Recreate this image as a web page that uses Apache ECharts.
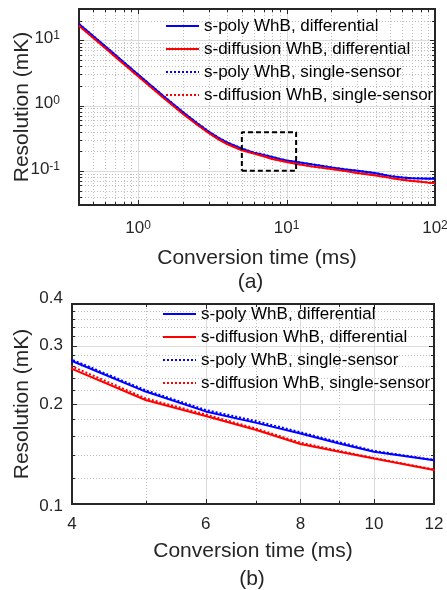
<!DOCTYPE html>
<html><head><meta charset="utf-8">
<script src="https://cdn.jsdelivr.net/npm/echarts@6/dist/echarts.min.js"></script>
<style>html,body{margin:0;padding:0;background:#fff}#c{width:447px;height:590px}</style>
</head><body><div id="c"></div>
<script>
// ---------------- data ----------------
const convTime   = [0.4, 0.5, 0.6, 0.7, 0.8, 0.9, 1, 1.2, 1.5, 2, 2.5, 3, 3.5, 4, 5, 6, 7, 8, 9, 10, 12, 15, 20, 25, 30, 40, 50, 60, 70, 80, 90, 100];
const polyDiff   = [17.7, 11.5, 8.05, 5.96, 4.59, 3.65, 2.97, 2.09, 1.36, 0.794, 0.535, 0.396, 0.317, 0.2695, 0.218, 0.190, 0.1755, 0.163, 0.152, 0.1436, 0.1355, 0.125, 0.113, 0.105, 0.100, 0.092, 0.083, 0.079, 0.077, 0.0765, 0.076, 0.0755];
const diffDiff   = [16.6, 10.8, 7.57, 5.6, 4.32, 3.44, 2.8, 1.97, 1.28, 0.75, 0.507, 0.376, 0.301, 0.255, 0.2056, 0.184, 0.167, 0.1515, 0.1436, 0.137, 0.1265, 0.116, 0.107, 0.099, 0.093, 0.085, 0.078, 0.073, 0.070, 0.068, 0.066, 0.065];
const polySingle = [17.8, 11.55, 8.1, 5.99, 4.61, 3.67, 2.99, 2.1, 1.37, 0.8, 0.539, 0.399, 0.32, 0.272, 0.220, 0.192, 0.1775, 0.1645, 0.1535, 0.1445, 0.1358, 0.1255, 0.1133, 0.1053, 0.1003, 0.0923, 0.0833, 0.0793, 0.0773, 0.0768, 0.0763, 0.0758];
const diffSingle = [16.7, 10.85, 7.6, 5.63, 4.34, 3.46, 2.82, 1.98, 1.29, 0.756, 0.512, 0.381, 0.306, 0.2595, 0.208, 0.186, 0.1685, 0.153, 0.1445, 0.1375, 0.127, 0.1163, 0.1073, 0.0993, 0.0933, 0.0853, 0.0783, 0.0733, 0.0703, 0.0683, 0.0663, 0.0653];
const seriesNames = ['s-poly WhB, differential', 's-diffusion WhB, differential', 's-poly WhB, single-sensor', 's-diffusion WhB, single-sensor'];
const zoomBoxX = [5, 11.6, 11.6, 5, 5];
const zoomBoxY = [0.1, 0.1, 0.39, 0.39, 0.1];

// axes (a)
const topXRange = [0.4, 100];
const topYRange = [0.03, 30];
const topXMajor = [1, 10, 100];
const topXMajorExp = ['0', '1', '2'];
const topXMinor = [0.5, 0.6, 0.7, 0.8, 0.9, 2, 3, 4, 5, 6, 7, 8, 9, 20, 30, 40, 50, 60, 70, 80, 90];
const topYMajor = [0.1, 1, 10];
const topYMajorExp = ['-1', '0', '1'];
const topYMinor = [0.04, 0.05, 0.06, 0.07, 0.08, 0.09, 0.2, 0.3, 0.4, 0.5, 0.6, 0.7, 0.8, 0.9, 2, 3, 4, 5, 6, 7, 8, 9, 20];
// axes (b)
const botXRange = [4, 12];
const botYRange = [0.1, 0.4];
const botXMajor = [4, 6, 8, 10, 12];
const botXMajorLabels = ['4', '6', '8', '10', '12'];
const botXMinor = [5, 7, 9];
const botYMajor = [0.1, 0.2, 0.3, 0.4];
const botYMajorLabels = ['0.1', '0.2', '0.3', '0.4'];
const botYMinor = [0.12, 0.14, 0.16, 0.18, 0.22, 0.24, 0.26, 0.28, 0.32, 0.34, 0.36, 0.38];

// ---------------- styling ----------------
const FONT = '"Liberation Sans", Arial, Helvetica, sans-serif';
const INK = '#262626';
const TICK_FS = 17;
const colors = ['#0000ff', '#ff0000', '#0000ff', '#ff0000'];
const dashes = ['solid', 'solid', [2, 2], [2, 2]];
const botYLabelShift = [2, 0, 0, -6];

function supRich() {
  return {
    b: {fontSize: TICK_FS, fontFamily: FONT, fill: INK, color: INK, lineHeight: 17, padding: [3, 0, 0, 0], verticalAlign: 'bottom'},
    s: {fontSize: 12, fontFamily: FONT, fill: INK, color: INK, lineHeight: 13, verticalAlign: 'top'}
  };
}

// draws grid lines, inward ticks and tick labels through the axis scales
function decor(gi, dir, vals, major, labels, xr, yr, lab) {
  const data = vals.map(v => dir === 'x' ? [v, yr[0]] : [xr[0], v]);
  return {
    type: 'custom', xAxisIndex: gi, yAxisIndex: gi, silent: true, clip: false, z: 1,
    data: data,
    renderItem: function (params, api) {
      const i = params.dataIndex;
      const children = [];
      const tl = major ? 5 : 3;
      const gridStyle = major ? {stroke: '#dcdcdc', lineWidth: 1} : {stroke: '#bdbdbd', lineWidth: 1, lineDash: [1, 2]};
      if (dir === 'x') {
        const v = api.value(0);
        const a = api.coord([v, yr[0]]), b = api.coord([v, yr[1]]);
        const x = Math.round(a[0]) + 0.5;
        const edge = (v === xr[0] || v === xr[1]);
        if (!edge) children.push({type: 'line', shape: {x1: x, y1: a[1], x2: x, y2: b[1]}, style: gridStyle});
        children.push({type: 'line', shape: {x1: x, y1: a[1], x2: x, y2: a[1] - tl}, style: {stroke: INK, lineWidth: 1}});
        children.push({type: 'line', shape: {x1: x, y1: b[1], x2: x, y2: b[1] + tl}, style: {stroke: INK, lineWidth: 1}});
        if (labels) {
          const t = lab.sup ? '{b|10}{s|' + labels[i] + '}' : labels[i];
          children.push({type: 'text', x: a[0], y: a[1] + lab.gap, style: {
            text: t, fill: INK, fontSize: TICK_FS, fontFamily: FONT, align: 'center', verticalAlign: 'top',
            rich: lab.sup ? supRich() : undefined}});
        }
      } else {
        const v = api.value(1);
        const a = api.coord([xr[0], v]), b = api.coord([xr[1], v]);
        const y = Math.round(a[1]) + 0.5;
        const edge = (v === yr[0] || v === yr[1]);
        if (!edge) children.push({type: 'line', shape: {x1: a[0], y1: y, x2: b[0], y2: y}, style: gridStyle});
        children.push({type: 'line', shape: {x1: a[0], y1: y, x2: a[0] + tl, y2: y}, style: {stroke: INK, lineWidth: 1}});
        children.push({type: 'line', shape: {x1: b[0], y1: y, x2: b[0] - tl, y2: y}, style: {stroke: INK, lineWidth: 1}});
        if (labels) {
          const t = lab.sup ? '{b|10}{s|' + labels[i] + '}' : labels[i];
          const dy = (lab.dy || 0) + (lab.shift ? lab.shift[i] : 0);
          children.push({type: 'text', x: a[0] - lab.gap, y: a[1] + dy, style: {
            text: t, fill: INK, fontSize: TICK_FS, fontFamily: FONT, align: 'right', verticalAlign: 'middle',
            rich: lab.sup ? supRich() : undefined}});
        }
      }
      return {type: 'group', children: children};
    }
  };
}

function curves(gi, lw) {
  const all = [polyDiff, diffDiff, polySingle, diffSingle];
  return all.map((vals, k) => ({
    type: 'line', name: seriesNames[k], xAxisIndex: gi, yAxisIndex: gi,
    data: convTime.map((t, i) => [t, vals[i]]),
    symbol: 'none', showSymbol: false, clip: true, z: 3 + k,
    lineStyle: {color: colors[k], width: lw, type: dashes[k]},
    itemStyle: {color: colors[k]},
    emphasis: {disabled: true}
  }));
}

function legendItem(name, left, cy) {
  return {
    data: [name], left: left, top: cy - 8.5, padding: 0, itemWidth: 33, itemHeight: 17, itemGap: 0,
    selectedMode: false, itemStyle: {opacity: 0, borderWidth: 0},
    textStyle: {fontSize: 17, color: '#000', fontFamily: FONT}
  };
}
const legendRowsTop = [26, 49, 72, 95];
const legendRowsBot = [314, 337, 360, 383];

const axisCommon = {
  axisLine: {show: false}, axisTick: {show: false}, axisLabel: {show: false}, splitLine: {show: false},
  nameLocation: 'middle', nameTextStyle: {fontSize: 21, color: INK, fontFamily: FONT}
};

const option = {
  animation: false,
  backgroundColor: '#fff',
  grid: [
    {left: 79, top: 9, width: 356, height: 196, show: true, borderColor: INK, borderWidth: 2, containLabel: false},
    {left: 72, top: 304, width: 362, height: 200, show: true, borderColor: INK, borderWidth: 2, containLabel: false}
  ],
  xAxis: [
    Object.assign({}, axisCommon, {type: 'log', gridIndex: 0, min: topXRange[0], max: topXRange[1], name: 'Conversion time (ms)', nameGap: 43}),
    Object.assign({}, axisCommon, {type: 'log', gridIndex: 1, min: botXRange[0], max: botXRange[1], name: 'Conversion time (ms)', nameGap: 37})
  ],
  yAxis: [
    Object.assign({}, axisCommon, {type: 'log', gridIndex: 0, min: topYRange[0], max: topYRange[1], name: 'Resolution (mK)', nameGap: 46}),
    Object.assign({}, axisCommon, {type: 'log', gridIndex: 1, min: botYRange[0], max: botYRange[1], name: 'Resolution (mK)', nameGap: 39})
  ],
  legend: seriesNames.map((n, i) => legendItem(n, 165, legendRowsTop[i]))
    .concat(seriesNames.map((n, i) => legendItem(n, 162, legendRowsBot[i]))),
  graphic: [
    {type: 'text', x: 250.5, y: 282, silent: true, style: {text: '(a)', fontSize: 21, fill: INK, fontFamily: FONT, align: 'center', verticalAlign: 'middle'}},
    {type: 'text', x: 252, y: 579, silent: true, style: {text: '(b)', fontSize: 21, fill: INK, fontFamily: FONT, align: 'center', verticalAlign: 'middle'}}
  ],
  series: [
    decor(0, 'x', topXMinor, false, null, topXRange, topYRange),
    decor(0, 'y', topYMinor, false, null, topXRange, topYRange),
    decor(0, 'x', topXMajor, true, topXMajorExp, topXRange, topYRange, {sup: true, gap: 15}),
    decor(0, 'y', topYMajor, true, topYMajorExp, topXRange, topYRange, {sup: true, gap: 19, dy: -2}),
    decor(1, 'x', botXMinor, false, null, botXRange, botYRange),
    decor(1, 'y', botYMinor, false, null, botXRange, botYRange),
    decor(1, 'x', botXMajor, true, botXMajorLabels, botXRange, botYRange, {gap: 12}),
    decor(1, 'y', botYMajor, true, botYMajorLabels, botXRange, botYRange, {gap: 9, shift: botYLabelShift}),
  ].concat(curves(0, 2), curves(1, 2), [{
    type: 'line', xAxisIndex: 0, yAxisIndex: 0, symbol: 'none', z: 10, silent: true,
    data: zoomBoxX.map((x, i) => [x, zoomBoxY[i]]),
    lineStyle: {color: '#000', width: 2, type: [5, 3]}
  }])
};
const chart = echarts.init(document.getElementById('c'), null, {renderer: 'canvas'});
chart.setOption(option);
</script></body></html>
